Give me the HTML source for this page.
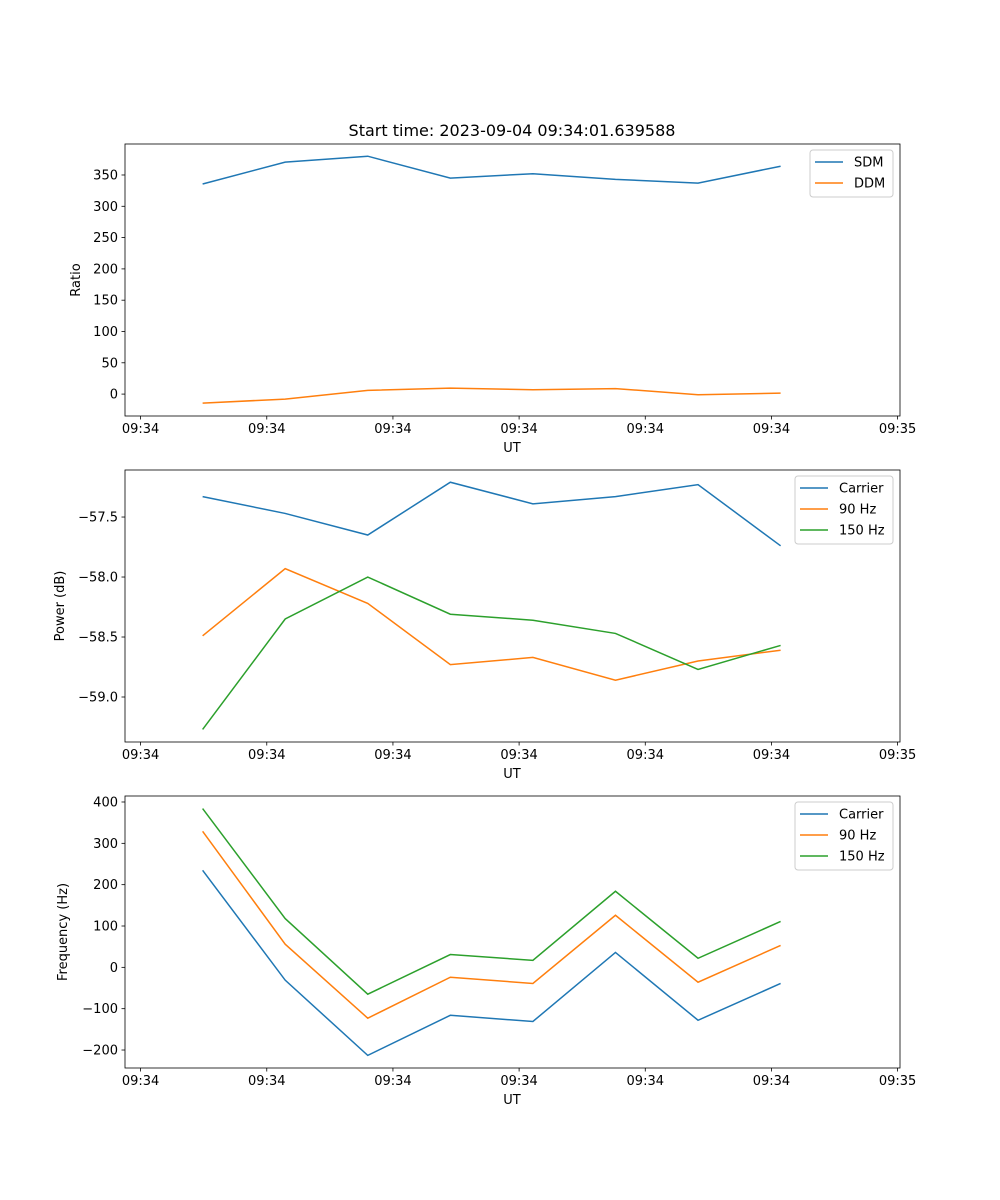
<!DOCTYPE html>
<html><head><meta charset="utf-8"><style>
body{margin:0;background:#fff}
svg{display:block;font-family:"DejaVu Sans","Liberation Sans",sans-serif}
</style></head><body>
<svg id="fig" width="1000" height="1200" xmlns="http://www.w3.org/2000/svg">
<rect width="1000" height="1200" fill="#fff"/>
<text x="512" y="136" font-size="16" text-anchor="middle">Start time: 2023-09-04 09:34:01.639588</text>
</svg>
<script>
const xTickPos = [-0.751, 0.777, 2.305, 3.833, 5.361, 6.889, 8.417];
const xTickLabels = ["09:34","09:34","09:34","09:34","09:34","09:34","09:35"];
const sdm = [335.6, 370.6, 380, 345, 352, 343, 337, 364];
const ddm = [-14.4, -8, 6, 9.5, 7, 8.8, -1, 1.5];
const pCarrier = [-57.33, -57.47, -57.65, -57.21, -57.39, -57.33, -57.23, -57.74];
const p90 = [-58.49, -57.93, -58.22, -58.73, -58.67, -58.86, -58.70, -58.61];
const p150 = [-59.27, -58.35, -58.0, -58.31, -58.36, -58.47, -58.77, -58.57];
const fCarrier = [234.7, -31, -213, -116, -131, 36, -128, -39];
const f90 = [329, 56, -123, -24, -39, 126, -36, 53];
const f150 = [384, 118, -65, 31, 17, 184, 22, 111];
const ticks1 = [0, 50, 100, 150, 200, 250, 300, 350];
const ticks2 = [-59.0, -58.5, -58.0, -57.5];
const ticks3 = [-200, -100, 0, 100, 200, 300, 400];

const NS = "http://www.w3.org/2000/svg";
const svg = document.getElementById("fig");
function el(t, a, parent){const e=document.createElementNS(NS,t);for(const k in a)e.setAttribute(k,a[k]);(parent||svg).appendChild(e);return e;}
const X0=125, X1=900, xMin=-0.94, xMax=8.446;
function xs(i){return X0+(i-xMin)/(xMax-xMin)*(X1-X0);}
const C=["#1f77b4","#ff7f0e","#2ca02c"];

function panel(name, top, ymin, ymax, yticks, fmt, ylabel, series, names, legendX, legendW){
  const bot=top+272;
  const g=el("g",{});
  
  
  const ys=v=>bot-(v-ymin)/(ymax-ymin)*272;
  series.forEach((s,k)=>{
    const p=el("polyline",{points:s.map((v,i)=>xs(i)+","+ys(v)).join(" "),fill:"none",stroke:C[k],"stroke-width":1.5},g);
    
    
  });
  el("rect",{x:X0,y:top,width:X1-X0,height:272,fill:"none",stroke:"#000","stroke-width":0.8},g);
  xTickPos.forEach((t,i)=>{
    const x=xs(t);
    el("line",{x1:x,x2:x,y1:bot,y2:bot+3.5,stroke:"#000","stroke-width":0.8},g);
    const tx=el("text",{x:x,y:bot+17,"font-size":13,"text-anchor":"middle"},g);tx.textContent=xTickLabels[i];
    
    
  });
  yticks.forEach(t=>{
    const y=ys(t);
    el("line",{x1:X0-3.5,x2:X0,y1:y,y2:y,stroke:"#000","stroke-width":0.8},g);
    const tx=el("text",{x:X0-7,y:y+4.5,"font-size":13,"text-anchor":"end"},g);tx.textContent=fmt(t);
    
    
  });
  const xl=el("text",{x:512,y:bot+36,"font-size":13,"text-anchor":"middle"},g);xl.textContent="UT";
  
  
  const yl=el("text",{x:0,y:0,"font-size":13,"text-anchor":"middle",transform:`translate(${ylabel[1]},${top+136}) rotate(-90)`},g);yl.textContent=ylabel[0];
  
  
  const lg=el("g",{},g);
  
  
  el("rect",{x:legendX,y:top+6,width:legendW,height:names.length*21+5,rx:3,fill:"#fff","fill-opacity":0.8,stroke:"#ccc"},lg);
  names.forEach((n,k)=>{
    const y=top+18+k*21;
    el("line",{x1:legendX+5,x2:legendX+33,y1:y,y2:y,stroke:C[k],"stroke-width":1.5},lg);
    const t=el("text",{x:legendX+44,y:y+4.5,"font-size":13},lg);t.textContent=n;
    
    
  });
}
panel("ratio-panel",144,-35,399.5,ticks1,t=>String(t),["Ratio",80],[sdm,ddm],["SDM","DDM"],810,83);
panel("power-panel",470,-59.375,-57.108,ticks2,t=>(t<0?"\u2212":"")+Math.abs(t).toFixed(1),["Power (dB)",64],[pCarrier,p90,p150],["Carrier","90 Hz","150 Hz"],795,98);
panel("frequency-panel",796,-243.5,414.5,ticks3,t=>(t<0?"\u2212":"")+Math.abs(t),["Frequency (Hz)",67],[fCarrier,f90,f150],["Carrier","90 Hz","150 Hz"],795,98);
</script>
</body></html>
